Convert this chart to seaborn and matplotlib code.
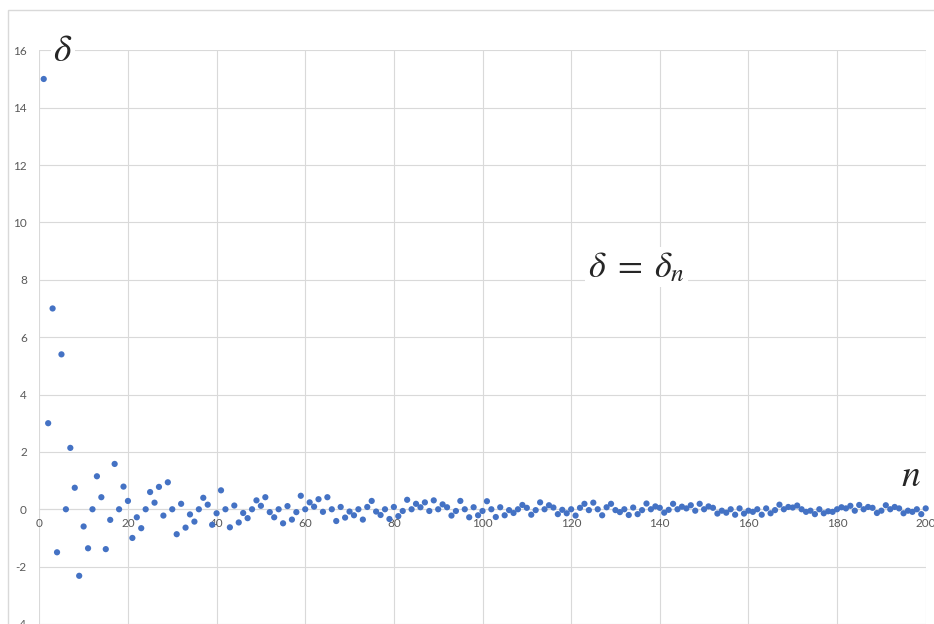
import numpy as np
import pandas as pd
import matplotlib
matplotlib.use("Agg")
import matplotlib.pyplot as plt
import matplotlib.patches as mpatches
import seaborn as sns

# sequence delta_n, n = 1..200
delta_1_50 = [15.0, 3.0, 7.0, -1.5, 5.4, 0.0, 2.14, 0.75, -2.32, -0.6,
              -1.36, 0.0, 1.15, 0.42, -1.39, -0.37, 1.58, 0.0, 0.79, 0.29,
              -1.0, -0.28, -0.66, 0.0, 0.6, 0.23, 0.78, -0.22, 0.94, 0.0,
              -0.87, 0.19, -0.64, -0.18, -0.43, 0.0, 0.40, 0.16, -0.54, -0.14,
              0.66, 0.0, -0.63, 0.13, -0.46, -0.13, -0.31, 0.0, 0.31, 0.12]
delta_51_100 = [0.42, -0.10, -0.28, 0.0, -0.49, 0.11, -0.36, -0.10, 0.47, 0.0,
                0.24, 0.09, 0.35, -0.09, 0.42, 0.0, -0.41, 0.08, -0.29, -0.08,
                -0.21, 0.0, -0.36, 0.08, 0.29, -0.08, -0.20, 0.0, -0.34, 0.08,
                -0.24, -0.06, 0.33, 0.0, 0.19, 0.07, 0.24, -0.06, 0.31, 0.0,
                0.17, 0.07, -0.22, -0.06, 0.29, 0.0, -0.28, 0.07, -0.21, -0.06]
delta_101_150 = [0.28, 0.0, -0.27, 0.07, -0.21, -0.03, -0.13, 0.0, 0.15, 0.05,
                 -0.19, -0.03, 0.24, 0.0, 0.14, 0.06, -0.17, -0.02, -0.14, 0.0,
                 -0.22, 0.05, 0.19, -0.03, 0.23, 0.0, -0.21, 0.07, 0.19, -0.03,
                 -0.10, 0.0, -0.20, 0.06, -0.17, -0.03, 0.20, 0.0, 0.10, 0.05,
                 -0.12, -0.02, 0.19, 0.0, 0.09, 0.03, 0.14, -0.05, 0.19, 0.0]
delta_151_200 = [0.10, 0.05, -0.15, -0.05, -0.12, 0.0, -0.19, 0.03, -0.15, -0.05,
                 -0.09, 0.0, -0.19, 0.03, -0.14, -0.03, 0.16, 0.0, 0.08, 0.06,
                 0.13, 0.0, -0.09, -0.05, -0.17, 0.0, -0.14, -0.07, -0.09, 0.0,
                 0.07, 0.03, 0.12, -0.05, 0.15, 0.0, 0.08, 0.05, -0.13, -0.05,
                 0.14, 0.0, 0.08, 0.03, -0.14, -0.05, -0.09, 0.0, -0.17, 0.03]

delta = delta_1_50 + delta_51_100 + delta_101_150 + delta_151_200
n = list(range(1, len(delta) + 1))

x_ticks = list(range(0, 201, 20))
y_ticks = list(range(-4, 17, 2))

df = pd.DataFrame({"n": n, "delta": delta})

sns.set_style("white")
plt.rcParams["mathtext.fontset"] = "stix"
plt.rcParams["axes.unicode_minus"] = False
plt.rcParams["font.family"] = ["Lato", "DejaVu Sans"]

fig = plt.figure(figsize=(9.34, 6.24), dpi=100)
ax = fig.add_axes([39.3 / 934, 0.0, 886.4 / 934, 573.7 / 624])

sns.scatterplot(data=df, x="n", y="delta", ax=ax, color="#4472C4",
                s=20, edgecolor="none", zorder=3, clip_on=False)

ax.set_xlim(0, 200)
ax.set_ylim(-4, 16)
ax.set_xticks(x_ticks)
ax.set_yticks(y_ticks)
ax.set_xlabel("")
ax.set_ylabel("")

grid_c = "#d9d9d9"
ax.grid(True, color=grid_c, linewidth=0.8, zorder=0)
ax.set_axisbelow(True)
for side in ["top", "right", "left"]:
    ax.spines[side].set_visible(False)
ax.spines["bottom"].set_position(("data", 0))
ax.spines["bottom"].set_color(grid_c)
ax.spines["bottom"].set_linewidth(0.8)

ax.tick_params(axis="both", length=0, labelsize=8.5, labelcolor="#595959")
ax.tick_params(axis="x", pad=6)
ax.tick_params(axis="y", pad=9)

# math labels with white background, like the original
box = dict(facecolor="white", edgecolor="none", pad=2)
ax.text(5.35, 16.0, r"$\delta$", fontsize=27, ha="center", va="center",
        bbox=box, zorder=4)
ax.text(134.8, 8.45, r"$\delta\;=\;\delta_n$", fontsize=26, ha="center",
        va="center", bbox=box, zorder=4)
ax.text(196.7, 1.2, r"$n$", fontsize=27, ha="center", va="center",
        bbox=box, zorder=4)

# chart area border
fig.add_artist(mpatches.Rectangle((8 / 934, -0.05), 1.2, (614 / 624) + 0.05,
                                  transform=fig.transFigure, fill=False,
                                  edgecolor=grid_c, linewidth=1))

fig.savefig("out.png", dpi=100)
